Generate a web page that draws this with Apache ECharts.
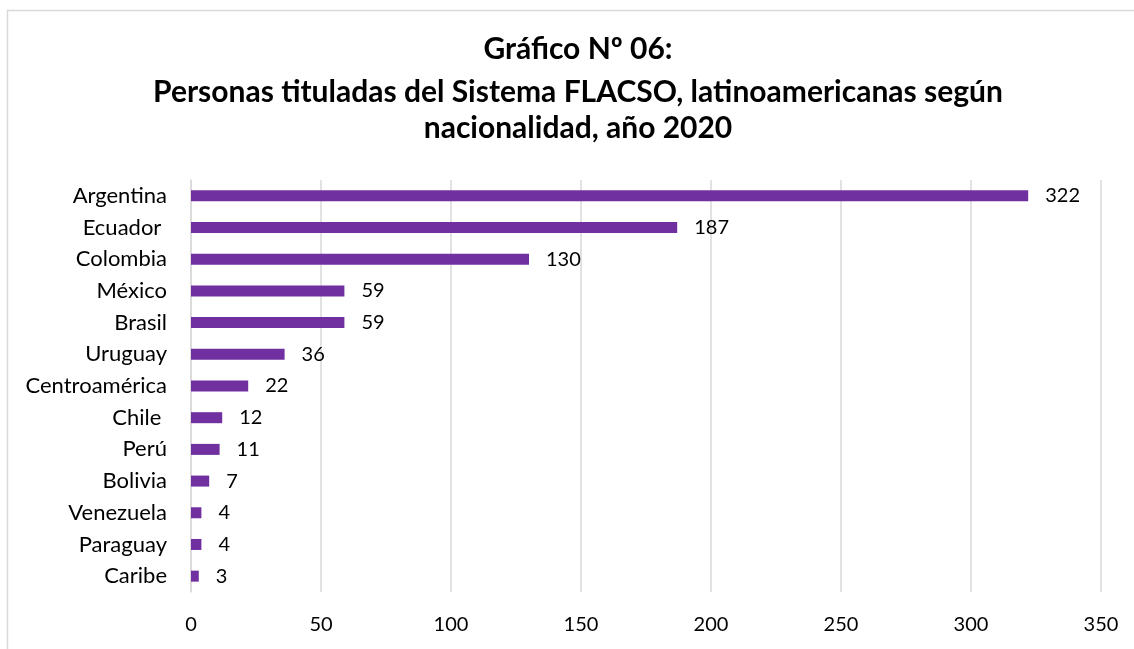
<!DOCTYPE html>
<html>
<head>
<meta charset="utf-8">
<script src="https://cdn.jsdelivr.net/npm/echarts@6/dist/echarts.min.js"></script>
<style>html,body{margin:0;padding:0;background:#fff}#c{width:1134px;height:649px}</style>
</head>
<body>
<div id="c"></div>
<script>
var categories = ['Argentina','Ecuador ','Colombia','México','Brasil','Uruguay','Centroamérica','Chile ','Perú','Bolivia','Venezuela','Paraguay','Caribe'];
var values = [322,187,130,59,59,36,22,12,11,7,4,4,3];
var titleLine1 = 'Gráfico Nº 06:';
var titleLine2 = 'Personas tituladas del Sistema FLACSO, latinoamericanas según';
var titleLine3 = 'nacionalidad, año 2020';

var chart = echarts.init(document.getElementById('c'));
var font = 'Lato, "Noto Sans", sans-serif';
function t(txt, y) {
  return {type:'text', x:578, y:y, style:{text:txt, font:'bold 30px ' + font, fill:'#000', textAlign:'center', textVerticalAlign:'middle'}};
}
chart.setOption({
  animation: false,
  backgroundColor: '#fff',
  graphic: [
    {type:'rect', shape:{x:7.5,y:10.5,width:1200,height:800}, style:{fill:'none',stroke:'#d9d9d9',lineWidth:1.5}, silent:true},
    t(titleLine1, 49), t(titleLine2, 92), t(titleLine3, 128)
  ],
  grid: {left:191, right:33, top:180, bottom:57, containLabel:false},
  xAxis: {
    type:'value', min:0, max:350, interval:50,
    axisLine:{show:false}, axisTick:{show:false},
    splitLine:{show:true, lineStyle:{color:'#d9d9d9', width:1.5}},
    axisLabel:{color:'#000', fontSize:20, fontFamily:font, margin:23}
  },
  yAxis: {
    type:'category', data:categories, inverse:true,
    axisLine:{show:true, lineStyle:{color:'#d9d9d9', width:1.5}}, axisTick:{show:false},
    axisLabel:{color:'#000', fontSize:22, fontFamily:font, margin:24}
  },
  series: [{
    type:'bar', data:values, barWidth:11,
    itemStyle:{color:'#7030A0'},
    label:{show:true, position:'right', distance:17, color:'#000', fontSize:20, fontFamily:font}
  }]
});
</script>
</body>
</html>
